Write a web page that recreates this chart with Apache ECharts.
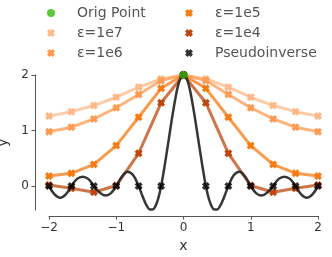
<!DOCTYPE html>
<html>
<head>
<meta charset="utf-8">
<script src="https://cdn.jsdelivr.net/npm/echarts@6/dist/echarts.min.js"></script>
<style>html,body{margin:0;padding:0;background:#fff;}#c{width:332px;height:257px;}</style>
</head>
<body>
<div id="c"></div>
<script>
// sample positions
const xs = [-2, -1.667, -1.333, -1, -0.667, -0.333, 0, 0.333, 0.667, 1, 1.333, 1.667, 2];
const eps1e7 = [1.26, 1.34, 1.45, 1.60, 1.78, 1.93, 2.0, 1.93, 1.78, 1.60, 1.45, 1.34, 1.26];
const eps1e6 = [0.98, 1.06, 1.21, 1.41, 1.65, 1.90, 2.0, 1.90, 1.65, 1.41, 1.21, 1.06, 0.98];
const eps1e5 = [0.18, 0.23, 0.39, 0.73, 1.24, 1.76, 2.0, 1.76, 1.24, 0.73, 0.39, 0.23, 0.18];
const eps1e4 = [0.02, -0.04, -0.11, 0.01, 0.59, 1.50, 2.0, 1.50, 0.59, 0.01, -0.11, -0.04, 0.02];
const pinvPts = [0, 0, 0, 0, 0, 0, 2, 0, 0, 0, 0, 0, 0];
const origX = [0];
const origY = [2];
// pseudoinverse interpolating curve
const curveX = [-2, -1.917, -1.833, -1.75, -1.667, -1.583, -1.5, -1.417, -1.333, -1.25, -1.167, -1.083, -1,
  -0.917, -0.833, -0.75, -0.667, -0.625, -0.583, -0.542, -0.5, -0.458, -0.417, -0.375, -0.333,
  -0.292, -0.25, -0.208, -0.167, -0.125, -0.083, -0.042, 0,
  0.042, 0.083, 0.125, 0.167, 0.208, 0.25, 0.292, 0.333, 0.375, 0.417, 0.458, 0.5, 0.542, 0.583, 0.625, 0.667,
  0.75, 0.833, 0.917, 1, 1.083, 1.167, 1.25, 1.333, 1.417, 1.5, 1.583, 1.667, 1.75, 1.833, 1.917, 2];
const curveY = [0, -0.15, -0.21, -0.15, 0, 0.13, 0.17, 0.13, 0, -0.11, -0.17, -0.13, 0,
  0.17, 0.26, 0.20, 0, -0.13, -0.26, -0.36, -0.42, -0.42, -0.36, -0.22, 0,
  0.28, 0.60, 0.93, 1.25, 1.55, 1.80, 1.95, 2.0,
  1.95, 1.80, 1.55, 1.25, 0.93, 0.60, 0.28, 0, -0.22, -0.36, -0.42, -0.42, -0.36, -0.26, -0.13, 0,
  0.20, 0.26, 0.17, 0, -0.13, -0.17, -0.11, 0, 0.13, 0.17, 0.13, 0, -0.15, -0.21, -0.15, 0];
const xTicks = [-2, -1, 0, 1, 2];
const yTicks = [0, 1, 2];
const seriesNames = ['ε=1e7', 'ε=1e6', 'ε=1e5', 'ε=1e4'];

const X = 'path://M3,0 L5,2 L7,0 L10,3 L8,5 L10,7 L7,10 L5,8 L3,10 L0,7 L2,5 L0,3 Z';
const font = 'DejaVu Sans';
const colors = ['#fdb98a', '#fd9b52', '#f77a12', '#bd470c'];
const epsData = [eps1e7, eps1e6, eps1e5, eps1e4];
const pair = (a, b) => a.map((v, i) => [v, b[i]]);

const series = [];
epsData.forEach((d, k) => {
  series.push({
    name: seriesNames[k], type: 'line', data: pair(xs, d), clip: false,
    symbol: X, symbolSize: 8, showSymbol: true,
    itemStyle: { color: colors[k] },
    lineStyle: { color: colors[k], width: 3, opacity: 0.75 },
    emphasis: { disabled: true }, z: 2, animation: false
  });
});
series.push({
  name: 'curve', type: 'line', data: pair(curveX, curveY), smooth: 0.4, showSymbol: false, clip: false,
  lineStyle: { color: '#2b2b2b', width: 2.5, opacity: 0.95 }, z: 3, animation: false, silent: true
});
series.push({
  name: 'Pseudoinverse', type: 'scatter', data: pair(xs, pinvPts), symbol: X, symbolSize: 8, clip: false,
  itemStyle: { color: '#000' }, z: 4, animation: false
});
series.push({
  name: 'Orig Point', type: 'scatter', data: pair(origX, origY), symbol: 'circle', symbolSize: 8, clip: false,
  itemStyle: { color: '#33bb0a', borderColor: '#333', borderWidth: 0.4 }, z: 5, animation: false
});

const legendCommon = {
  orient: 'vertical', top: 1, itemWidth: 42, itemHeight: 8, itemGap: 6, selectedMode: false,
  textStyle: { fontFamily: font, fontSize: 14, color: '#555', lineHeight: 14 }
};

const option = {
  animation: false,
  legend: [
    Object.assign({}, legendCommon, { left: 42, data: [
      { name: 'Orig Point', icon: 'circle', itemStyle: { borderWidth: 0 } }, { name: 'ε=1e7', icon: X }, { name: 'ε=1e6', icon: X }] }),
    Object.assign({}, legendCommon, { left: 180, data: [
      { name: 'ε=1e5', icon: X }, { name: 'ε=1e4', icon: X }, { name: 'Pseudoinverse', icon: X }] })
  ],
  grid: { left: 49, right: 14, top: 75, bottom: 47, containLabel: false, outerBoundsMode: 'none' },
  xAxis: {
    type: 'value', min: -2, max: 2, offset: 6,
    name: 'x', nameLocation: 'middle', nameGap: 22,
    nameTextStyle: { fontFamily: font, fontSize: 14, color: '#333' },
    splitLine: { show: false },
    axisLine: { show: true, onZero: false, lineStyle: { color: '#555', width: 1 } },
    axisTick: { show: true, length: 3.5, customValues: xTicks, lineStyle: { color: '#555' } },
    axisLabel: { customValues: xTicks, margin: 6, fontFamily: font, fontSize: 12, color: '#333',
      formatter: v => String(v).replace('-', '\u2212') }
  },
  yAxis: {
    type: 'value', min: -0.43, max: 2, offset: 14,
    name: 'y', nameLocation: 'middle', nameGap: 21,
    nameTextStyle: { fontFamily: font, fontSize: 14, color: '#333' },
    splitLine: { show: false },
    axisLine: { show: true, onZero: false, lineStyle: { color: '#555', width: 1 } },
    axisTick: { show: true, length: 3.5, customValues: yTicks, lineStyle: { color: '#555' } },
    axisLabel: { customValues: yTicks, margin: 6, fontFamily: font, fontSize: 12, color: '#333' }
  },
  series: series
};
const chart = echarts.init(document.getElementById('c'), null, { renderer: 'canvas' });
chart.setOption(option);
</script>
</body>
</html>
